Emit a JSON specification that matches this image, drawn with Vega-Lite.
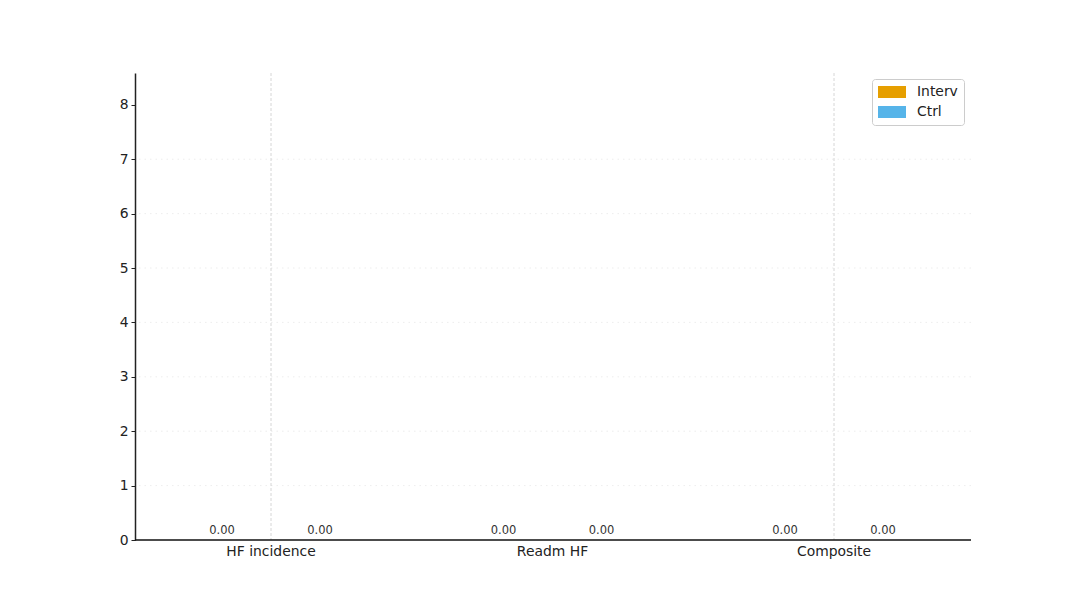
{
  "$schema": "https://vega.github.io/schema/vega-lite/v6.json",
  "width": 836,
  "height": 467,
  "autosize": "none",
  "padding": {"left": 135, "top": 73, "right": 108, "bottom": 67},
  "background": "white",
  "config": {
    "font": "DejaVu Sans",
    "view": {"stroke": null}
  },
  "datasets": {
    "bars": [
      {"category": "HF incidence", "group": "Interv", "value": 0},
      {"category": "HF incidence", "group": "Ctrl", "value": 0},
      {"category": "Readm HF", "group": "Interv", "value": 0},
      {"category": "Readm HF", "group": "Ctrl", "value": 0},
      {"category": "Composite", "group": "Interv", "value": 0},
      {"category": "Composite", "group": "Ctrl", "value": 0}
    ],
    "vgrid": [
      {"category": "HF incidence"},
      {"category": "Composite"}
    ],
    "hgrid": [
      {"level": 1}, {"level": 2}, {"level": 3}, {"level": 4},
      {"level": 5}, {"level": 6}, {"level": 7}
    ],
    "baseline": [
      {"level": 0}
    ]
  },
  "layer": [
    {
      "data": {"name": "hgrid"},
      "mark": {"type": "rule", "color": "#e8e8e8", "strokeDash": [1.5, 4], "strokeWidth": 0.8},
      "encoding": {
        "y": {"field": "level", "type": "quantitative"}
      }
    },
    {
      "data": {"name": "vgrid"},
      "mark": {"type": "rule", "color": "#cccccc", "strokeDash": [3, 2], "strokeWidth": 0.8},
      "encoding": {
        "x": {"field": "category", "type": "nominal", "scale": {"domain": ["HF incidence", "Readm HF", "Composite"], "range": [-4.75, 839.75], "paddingInner": 0, "paddingOuter": 0}, "sort": null}
      }
    },
    {
      "data": {"name": "bars"},
      "mark": {"type": "bar"},
      "encoding": {
        "x": {
          "field": "category", "type": "nominal", "sort": null, "title": null,
          "scale": {"domain": ["HF incidence", "Readm HF", "Composite"], "range": [-4.75, 839.75], "paddingInner": 0, "paddingOuter": 0},
          "axis": {"labelAngle": 0, "labelAlign": "center", "labelBaseline": "top", "ticks": false, "labelPadding": 4, "labelFontSize": 13.9, "labelColor": "#222222", "domain": false, "grid": false}
        },
        "xOffset": {"field": "group", "type": "nominal", "sort": ["Interv", "Ctrl"], "scale": {"domain": ["Interv", "Ctrl"], "paddingInner": 0, "paddingOuter": 0.436}},
        "y": {
          "field": "value", "type": "quantitative", "title": null,
          "scale": {"domain": [0, 8.585], "nice": false, "zero": true},
          "axis": {"values": [0, 1, 2, 3, 4, 5, 6, 7, 8], "labelFontSize": 13.9, "labelColor": "#222222", "tickColor": "#222222", "tickSize": 4, "labelPadding": 3, "domainColor": "#222222", "domainWidth": 1.5, "grid": false}
        },
        "color": {
          "field": "group", "type": "nominal", "title": null,
          "scale": {"domain": ["Interv", "Ctrl"], "range": ["#E69F00", "#56B4E9"]},
          "legend": {
            "orient": "none", "legendX": 737, "legendY": 6,
            "symbolType": "M-1,-0.86H3V0.86H-1Z", "symbolSize": 196, "symbolStrokeWidth": 0, "symbolOpacity": 1,
            "labelFontSize": 13.9, "labelColor": "#222222", "labelOffset": 25,
            "rowPadding": 6, "padding": 6, "strokeColor": "#cccccc", "cornerRadius": 3, "fillColor": "white"
          }
        }
      }
    },
    {
      "data": {"name": "bars"},
      "mark": {"type": "text", "baseline": "bottom", "dy": -4, "fontSize": 11.5, "color": "#333333"},
      "encoding": {
        "x": {"field": "category", "type": "nominal", "sort": null},
        "xOffset": {"field": "group", "type": "nominal", "sort": ["Interv", "Ctrl"]},
        "y": {"field": "value", "type": "quantitative"},
        "text": {"field": "value", "type": "quantitative", "format": ".2f"}
      }
    },
    {
      "data": {"name": "baseline"},
      "mark": {"type": "rule", "color": "#111111", "strokeWidth": 1.3},
      "encoding": {
        "y": {"field": "level", "type": "quantitative"}
      }
    }
  ]
}
